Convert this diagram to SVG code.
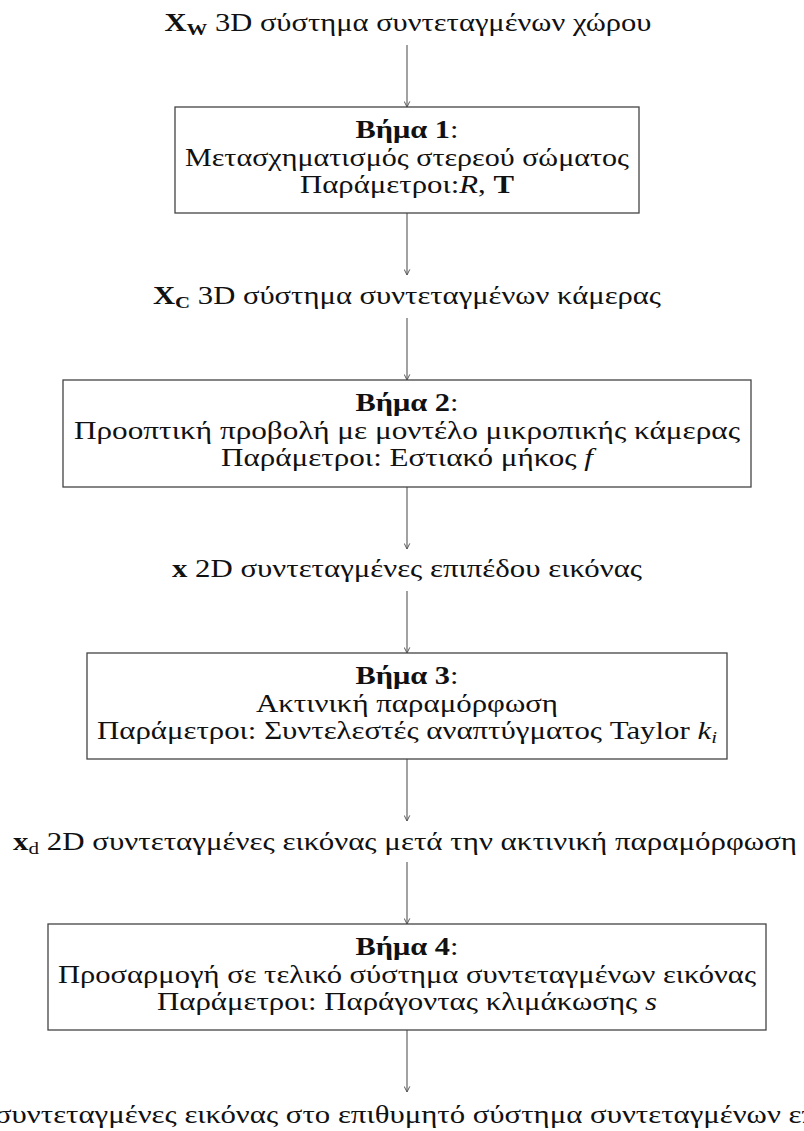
<svg xmlns="http://www.w3.org/2000/svg" width="804" height="1131" viewBox="0 0 804 1131">
  <style>
    text { font-family: "Liberation Serif", "DejaVu Serif", serif; font-size: 25px; fill: #111; text-anchor: middle; }
    .b { font-weight: bold; }
    .i { font-style: italic; }
    .sub { font-size: 17px; }
    .box { fill: #fff; stroke: #444; stroke-width: 1.3; }
    .edge { stroke: #555; stroke-width: 1.1; fill: none; marker-end: url(#tip); }
  </style>
  <defs>
    <marker id="tip" viewBox="0 0 10 10" refX="9" refY="5" markerWidth="7" markerHeight="7" markerUnits="userSpaceOnUse" orient="auto">
      <path d="M1,1 L9,5 L1,9" fill="none" stroke="#555" stroke-width="1.4"/>
    </marker>
  </defs>

  <rect width="804" height="1131" fill="#fff"/>

  <!-- connectors -->
  <g id="connectors">
    <line class="edge" x1="407" y1="45" x2="407" y2="107"/>
    <line class="edge" x1="407" y1="213" x2="407" y2="275"/>
    <line class="edge" x1="407" y1="318" x2="407" y2="380"/>
    <line class="edge" x1="407" y1="487" x2="407" y2="549"/>
    <line class="edge" x1="407" y1="591" x2="407" y2="653"/>
    <line class="edge" x1="407" y1="759" x2="407" y2="821"/>
    <line class="edge" x1="407" y1="862" x2="407" y2="924"/>
    <line class="edge" x1="407" y1="1030" x2="407" y2="1092"/>
  </g>

  <!-- coordinate frames and processing steps, top to bottom -->
  <g id="world">
    <text x="408" y="31" textLength="487" lengthAdjust="spacingAndGlyphs"><tspan class="b">X</tspan><tspan class="b sub" dy="4">W</tspan><tspan dy="-4"> 3D σύστημα συντεταγμένων χώρου</tspan></text>
  </g>

  <g id="step1">
    <rect class="box" x="175" y="107" width="464" height="106"/>
    <text x="407" y="138" textLength="103" lengthAdjust="spacingAndGlyphs"><tspan class="b">Βήμα 1</tspan>:</text>
    <text x="407" y="166" textLength="444" lengthAdjust="spacingAndGlyphs">Μετασχηματισμός στερεού σώματος</text>
    <text x="407" y="193" textLength="214" lengthAdjust="spacingAndGlyphs">Παράμετροι:<tspan class="i">R</tspan>, <tspan class="b">T</tspan></text>
  </g>

  <g id="camera">
    <text x="407" y="304" textLength="508" lengthAdjust="spacingAndGlyphs"><tspan class="b">X</tspan><tspan class="b sub" dy="4">C</tspan><tspan dy="-4"> 3D σύστημα συντεταγμένων κάμερας</tspan></text>
  </g>

  <g id="step2">
    <rect class="box" x="63" y="380" width="688" height="107"/>
    <text x="407" y="411" textLength="103" lengthAdjust="spacingAndGlyphs"><tspan class="b">Βήμα 2</tspan>:</text>
    <text x="407" y="439" textLength="666" lengthAdjust="spacingAndGlyphs">Προοπτική προβολή με μοντέλο μικροπικής κάμερας</text>
    <text x="407" y="466" textLength="372" lengthAdjust="spacingAndGlyphs">Παράμετροι: Εστιακό μήκος <tspan class="i">f</tspan></text>
  </g>

  <g id="imageplane">
    <text x="407" y="577" textLength="470" lengthAdjust="spacingAndGlyphs"><tspan class="b">x</tspan> 2D συντεταγμένες επιπέδου εικόνας</text>
  </g>

  <g id="step3">
    <rect class="box" x="87" y="653" width="640" height="106"/>
    <text x="407" y="684" textLength="103" lengthAdjust="spacingAndGlyphs"><tspan class="b">Βήμα 3</tspan>:</text>
    <text x="407" y="712" textLength="302" lengthAdjust="spacingAndGlyphs">Ακτινική παραμόρφωση</text>
    <text x="407" y="739" textLength="620" lengthAdjust="spacingAndGlyphs">Παράμετροι: Συντελεστές αναπτύγματος Taylor <tspan class="i">k</tspan><tspan class="i sub" dy="4">i</tspan></text>
  </g>

  <g id="distorted">
    <text x="405" y="850" textLength="784" lengthAdjust="spacingAndGlyphs"><tspan class="b">x</tspan><tspan class="sub" dy="4">d</tspan><tspan dy="-4"> 2D συντεταγμένες εικόνας μετά την ακτινική παραμόρφωση</tspan></text>
  </g>

  <g id="step4">
    <rect class="box" x="48" y="924" width="718" height="106"/>
    <text x="407" y="955" textLength="103" lengthAdjust="spacingAndGlyphs"><tspan class="b">Βήμα 4</tspan>:</text>
    <text x="407" y="983" textLength="698" lengthAdjust="spacingAndGlyphs">Προσαρμογή σε τελικό σύστημα συντεταγμένων εικόνας</text>
    <text x="407" y="1010" textLength="500" lengthAdjust="spacingAndGlyphs">Παράμετροι: Παράγοντας κλιμάκωσης <tspan class="i">s</tspan></text>
  </g>

  <g id="output">
    <text x="-5" y="1123" style="text-anchor:start" textLength="822" lengthAdjust="spacingAndGlyphs">συντεταγμένες εικόνας στο επιθυμητό σύστημα συντεταγμένων επ</text>
  </g>
</svg>
